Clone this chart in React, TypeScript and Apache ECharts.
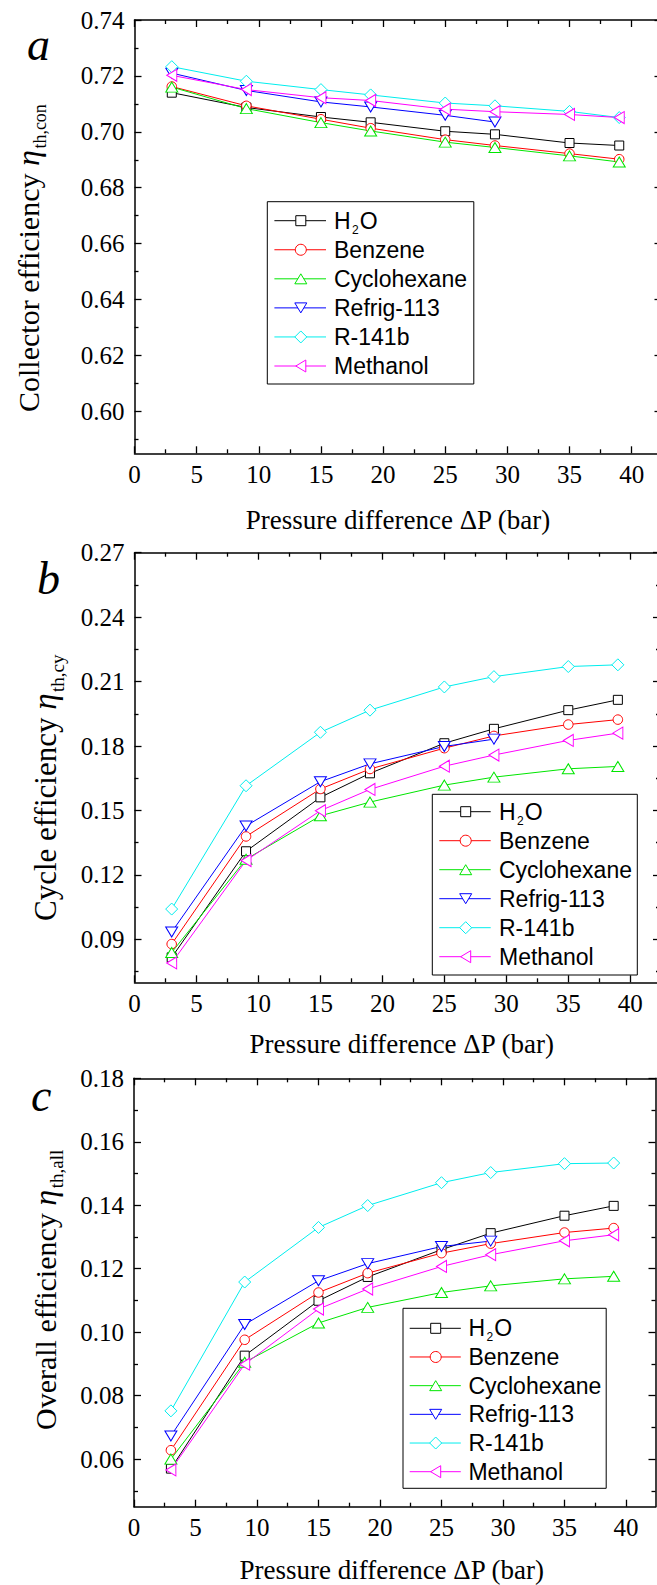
import React, { useEffect, useRef } from 'react';
import * as echarts from 'echarts';

// ---------------- data ----------------
const pressure = [3, 9, 15, 19, 25, 29, 35, 39];
const pressureRefrig = [3, 9, 15, 19, 25, 29];

const fluidNames = ['H2O', 'Benzene', 'Cyclohexane', 'Refrig-113', 'R-141b', 'Methanol'];

// (a) collector efficiency
const collectorH2O = [0.714, 0.7087, 0.7053, 0.7034, 0.7002, 0.6991, 0.696, 0.6951];
const collectorBenzene = [0.7162, 0.7093, 0.7045, 0.7013, 0.6972, 0.6951, 0.6922, 0.6902];
const collectorCyclohexane = [0.716, 0.7083, 0.7033, 0.7003, 0.6963, 0.6944, 0.6914, 0.6892];
const collectorRefrig = [0.721, 0.7148, 0.7107, 0.7089, 0.7059, 0.7035];
const collectorR141b = [0.7233, 0.7181, 0.7151, 0.7132, 0.7103, 0.7093, 0.7073, 0.7051];
const collectorMethanol = [0.7202, 0.7151, 0.7122, 0.7112, 0.7081, 0.7072, 0.7062, 0.7051];

// (b) cycle efficiency
const cycleH2O = [0.0816, 0.131, 0.1561, 0.1673, 0.1813, 0.188, 0.1967, 0.2015];
const cycleBenzene = [0.0878, 0.1379, 0.16, 0.1693, 0.179, 0.1847, 0.19, 0.1923];
const cycleCyclohexane = [0.0839, 0.1273, 0.1475, 0.1539, 0.1618, 0.1655, 0.1694, 0.1705];
const cycleRefrig = [0.0934, 0.1428, 0.1634, 0.1717, 0.1798, 0.1832];
const cycleR141b = [0.1041, 0.1615, 0.1864, 0.1967, 0.2075, 0.2123, 0.217, 0.2178];
const cycleMethanol = [0.079, 0.1267, 0.1499, 0.1598, 0.1706, 0.1758, 0.1826, 0.186];

// (c) overall efficiency
const overallH2O = [0.057, 0.0926, 0.1099, 0.1174, 0.126, 0.1312, 0.1367, 0.1398];
const overallBenzene = [0.0628, 0.0976, 0.1125, 0.1186, 0.1249, 0.1279, 0.1314, 0.1328];
const overallCyclohexane = [0.06, 0.0905, 0.1029, 0.1078, 0.1125, 0.1146, 0.1168, 0.1176];
const overallRefrig = [0.0673, 0.1024, 0.1162, 0.1216, 0.127, 0.1287];
const overallR141b = [0.0752, 0.1158, 0.133, 0.1399, 0.1471, 0.1503, 0.1531, 0.1533];
const overallMethanol = [0.0566, 0.0899, 0.1073, 0.1136, 0.1207, 0.1244, 0.1288, 0.1307];

// tick values
const xMajorTicks = [0, 5, 10, 15, 20, 25, 30, 35, 40];
const xMinorTicks = [2.5, 7.5, 12.5, 17.5, 22.5, 27.5, 32.5, 37.5];
const yMajorA = [0.6, 0.62, 0.64, 0.66, 0.68, 0.7, 0.72, 0.74];
const yMinorA = [0.59, 0.61, 0.63, 0.65, 0.67, 0.69, 0.71, 0.73];
const yMajorB = [0.09, 0.12, 0.15, 0.18, 0.21, 0.24, 0.27];
const yMinorB = [0.075, 0.105, 0.135, 0.165, 0.195, 0.225, 0.255];
const yMajorC = [0.06, 0.08, 0.1, 0.12, 0.14, 0.16, 0.18];
const yMinorC = [0.05, 0.07, 0.09, 0.11, 0.13, 0.15, 0.17];

// ---------------- styles / layout ----------------
const SERIF = 'Liberation Serif';
const SANS = 'Liberation Sans';

const fluidStyles = [
  { color: '#000000', symbol: 'rect', size: 9, rotate: 0 },
  { color: '#ff0000', symbol: 'circle', size: 9.5, rotate: 0 },
  { color: '#00e600', symbol: 'triangle', size: [12, 10], rotate: 0 },
  { color: '#0000ff', symbol: 'triangle', size: [12, 10], rotate: 180 },
  { color: '#00eeee', symbol: 'diamond', size: [12, 12], rotate: 0 },
  { color: '#ff00ff', symbol: 'triangle', size: [12, 10], rotate: 90 },
];

const panels = [
  {
    values: [collectorH2O, collectorBenzene, collectorCyclohexane, collectorRefrig, collectorR141b, collectorMethanol],
    grid: { left: 134.5, top: 20, width: 527, height: 433.3 },
    yMin: 0.585, yMax: 0.74, yMajor: yMajorA, yMinor: yMinorA,
    letter: 'a', letterX: 27, letterBase: 59,
    title: 'Collector efficiency ', sub: 'th,con',
    titleX: 38, titleY: 412, titleSize: 30, etaSize: 32, subSize: 18, subOffset: 8,
    xTitleX: 398, xTitleY: 520, xLabelDy: 21.5,
    legend: { x: 267.3, y: 201.7, w: 206.5, h: 182.3, rowY: 220.7, step: 29.06, l1: 274.4, l2: 326, sx: 300.8, tx: 334 },
  },
  {
    values: [cycleH2O, cycleBenzene, cycleCyclohexane, cycleRefrig, cycleR141b, cycleMethanol],
    grid: { left: 134.5, top: 552.7, width: 525.5, height: 429.6 },
    yMin: 0.07, yMax: 0.27, yMajor: yMajorB, yMinor: yMinorB,
    letter: 'b', letterX: 37, letterBase: 593,
    title: 'Cycle efficiency ', sub: 'th,cy',
    titleX: 55.5, titleY: 921, titleSize: 31, etaSize: 33, subSize: 19, subOffset: 8,
    xTitleX: 401.7, xTitleY: 1044, xLabelDy: 21,
    legend: { x: 432.3, y: 794.3, w: 205, h: 180.7, rowY: 811.7, step: 29, l1: 439.3, l2: 490.7, sx: 465.7, tx: 499 },
  },
  {
    values: [overallH2O, overallBenzene, overallCyclohexane, overallRefrig, overallR141b, overallMethanol],
    grid: { left: 134, top: 1078.3, width: 521.5, height: 428.4 },
    yMin: 0.045, yMax: 0.18, yMajor: yMajorC, yMinor: yMinorC,
    letter: 'c', letterX: 31, letterBase: 1110,
    title: 'Overall efficiency ', sub: 'th,all',
    titleX: 55, titleY: 1430, titleSize: 30, etaSize: 32, subSize: 19, subOffset: 8,
    xTitleX: 391.7, xTitleY: 1570, xLabelDy: 20.5,
    legend: { x: 403, y: 1308.3, w: 203.2, h: 180, rowY: 1328.3, step: 28.68, l1: 409.7, l2: 460.8, sx: 435.7, tx: 468.4 },
  },
];

const X_MAX = 42.4;
const TICK_FONT = `25px "${SERIF}"`;

let measureCtx: CanvasRenderingContext2D | null = null;
function textWidth(text: string, font: string): number {
  if (!measureCtx) measureCtx = document.createElement('canvas').getContext('2d');
  measureCtx!.font = font;
  return measureCtx!.measureText(text).width;
}

function txt(text: string, x: number, y: number, font: string, align = 'left', extra: any = {}) {
  return {
    type: 'text',
    x,
    y,
    ...extra,
    style: {
      text,
      font,
      fill: '#000',
      textAlign: align,
      align,
      textVerticalAlign: 'middle',
      verticalAlign: 'middle',
    },
  };
}

function axisDef(gridIndex: number, min: number, max: number, position: string, major: boolean, ticks: number[]) {
  return {
    type: 'value',
    gridIndex,
    min,
    max,
    position,
    axisLine: { show: major, onZero: false, lineStyle: { color: '#000', width: 1.5 } },
    axisTick: {
      show: true,
      inside: true,
      length: major ? 7 : 4,
      customValues: ticks,
      lineStyle: { color: '#000', width: 1.3 },
    },
    axisLabel: { show: false },
    splitLine: { show: false },
    minorTick: { show: false },
    silent: true,
  };
}

function legendSymbol(i: number, cx: number, cy: number, color: string) {
  const style = { fill: '#fff', stroke: color, lineWidth: 1 };
  switch (i) {
    case 0:
      return { type: 'rect', shape: { x: cx - 5, y: cy - 5, width: 10, height: 10 }, style };
    case 1:
      return { type: 'circle', shape: { cx, cy, r: 5.5 }, style };
    case 2:
      return { type: 'polygon', shape: { points: [[cx, cy - 5], [cx + 6, cy + 5], [cx - 6, cy + 5]] }, style };
    case 3:
      return { type: 'polygon', shape: { points: [[cx - 6, cy - 5], [cx + 6, cy - 5], [cx, cy + 5]] }, style };
    case 4:
      return { type: 'polygon', shape: { points: [[cx, cy - 6], [cx + 6, cy], [cx, cy + 6], [cx - 6, cy]] }, style };
    default:
      return { type: 'polygon', shape: { points: [[cx - 5, cy], [cx + 5, cy - 6], [cx + 5, cy + 6]] }, style };
  }
}

function buildBase() {
  const grids: any[] = [];
  const xAxes: any[] = [];
  const yAxes: any[] = [];
  const series: any[] = [];
  const axisIndex: { xb: number; yb: number }[] = [];

  panels.forEach((p, gi) => {
    grids.push({ ...p.grid, containLabel: false, outerBoundsMode: 'none' });
    const xb = xAxes.length;
    xAxes.push(axisDef(gi, 0, X_MAX, 'bottom', true, xMajorTicks));
    xAxes.push(axisDef(gi, 0, X_MAX, 'bottom', false, xMinorTicks));
    xAxes.push(axisDef(gi, 0, X_MAX, 'top', true, xMajorTicks));
    xAxes.push(axisDef(gi, 0, X_MAX, 'top', false, xMinorTicks));
    const yb = yAxes.length;
    yAxes.push(axisDef(gi, p.yMin, p.yMax, 'left', true, p.yMajor));
    yAxes.push(axisDef(gi, p.yMin, p.yMax, 'left', false, p.yMinor));
    yAxes.push(axisDef(gi, p.yMin, p.yMax, 'right', true, p.yMajor));
    yAxes.push(axisDef(gi, p.yMin, p.yMax, 'right', false, p.yMinor));
    axisIndex.push({ xb, yb });

    p.values.forEach((ys, fi) => {
      const st = fluidStyles[fi];
      const xs = fi === 3 ? pressureRefrig : pressure;
      series.push({
        type: 'line',
        name: fluidNames[fi],
        xAxisIndex: xb,
        yAxisIndex: yb,
        data: xs.map((x, k) => [x, ys[k]]),
        symbol: st.symbol,
        symbolSize: st.size,
        symbolRotate: st.rotate,
        showSymbol: true,
        showAllSymbol: true,
        lineStyle: { color: st.color, width: 1 },
        itemStyle: { color: '#fff', borderColor: st.color, borderWidth: 1 },
        emphasis: { disabled: true },
        silent: true,
        clip: false,
      });
    });
  });

  return {
    option: {
      animation: false,
      backgroundColor: '#ffffff',
      grid: grids,
      xAxis: xAxes,
      yAxis: yAxes,
      series,
    },
    axisIndex,
  };
}

function buildGraphics(chart: any, axisIndex: { xb: number; yb: number }[]) {
  const graphics: any[] = [];
  const legendFont = `23px "${SANS}"`;
  const subFont = `12px "${SANS}"`;

  panels.forEach((p, gi) => {
    const { xb, yb } = axisIndex[gi];
    const bottomY = chart.convertToPixel({ yAxisIndex: yb }, p.yMin);
    const leftX = chart.convertToPixel({ xAxisIndex: xb }, 0);

    // tick labels (positioned through the axes' scales)
    xMajorTicks.forEach((v) => {
      const px = chart.convertToPixel({ xAxisIndex: xb }, v);
      graphics.push(txt(String(v), px, bottomY + p.xLabelDy, TICK_FONT, 'center'));
    });
    p.yMajor.forEach((v) => {
      const py = chart.convertToPixel({ yAxisIndex: yb }, v);
      graphics.push(txt(v.toFixed(2), leftX - 10, py, TICK_FONT, 'right'));
    });

    // panel letter
    const letterSize = 46;
    graphics.push(txt(p.letter, p.letterX, p.letterBase - 0.32 * letterSize, `italic ${letterSize}px "${SERIF}"`));

    // x-axis title
    graphics.push(txt('Pressure difference ΔP (bar)', p.xTitleX, p.xTitleY, `27px "${SERIF}"`, 'center'));

    // y-axis title (rotated, reads bottom to top)
    const fs = p.titleSize;
    const etaFs = p.etaSize;
    const subFs = p.subSize;
    const mainFont = `${fs}px "${SERIF}"`;
    const etaFont = `italic ${etaFs}px "${SERIF}"`;
    const sFont = `${subFs}px "${SERIF}"`;
    const w1 = textWidth(p.title, mainFont);
    const w2 = textWidth('η', etaFont);
    graphics.push({
      type: 'group',
      x: p.titleX,
      y: p.titleY,
      rotation: Math.PI / 2,
      children: [
        txt(p.title, 0, -0.32 * fs, mainFont),
        txt('η', w1, -0.32 * etaFs, etaFont),
        txt(p.sub, w1 + w2 + 1.5, p.subOffset - 0.32 * subFs, sFont),
      ],
    });

    // legend
    const L = p.legend;
    const children: any[] = [
      {
        type: 'rect',
        shape: { x: L.x, y: L.y, width: L.w, height: L.h },
        style: { fill: '#fff', stroke: '#000', lineWidth: 1 },
      },
    ];
    fluidNames.forEach((name, fi) => {
      const cy = L.rowY + fi * L.step;
      const color = fluidStyles[fi].color;
      children.push({
        type: 'line',
        shape: { x1: L.l1, y1: cy, x2: L.l2, y2: cy },
        style: { stroke: color, lineWidth: 1 },
      });
      children.push(legendSymbol(fi, L.sx, cy, color));
      if (name === 'H2O') {
        const wH = textWidth('H', legendFont);
        const w2s = textWidth('2', subFont);
        children.push(txt('H', L.tx, cy, legendFont));
        children.push(txt('2', L.tx + wH + 1.5, cy + 9, subFont));
        children.push(txt('O', L.tx + wH + w2s + 2.5, cy, legendFont));
      } else {
        children.push(txt(name, L.tx, cy, legendFont));
      }
    });
    graphics.push({ type: 'group', z: 100, children });
  });
  return graphics;
}

export default function App() {
  const ref = useRef<HTMLDivElement>(null);
  useEffect(() => {
    if (!ref.current) return;
    const chart = echarts.init(ref.current, null, { renderer: 'svg' });
    const { option, axisIndex } = buildBase();
    chart.setOption(option as any);
    chart.setOption({ graphic: { elements: buildGraphics(chart, axisIndex) } } as any);
    return () => {
      chart.dispose();
    };
  }, []);
  return (
    <div
      style={{
        position: 'absolute',
        left: 0,
        top: 0,
        width: 657,
        height: 1585,
        overflow: 'hidden',
        background: '#fff',
      }}
    >
      <div ref={ref} style={{ width: 680, height: 1585 }} />
    </div>
  );
}
